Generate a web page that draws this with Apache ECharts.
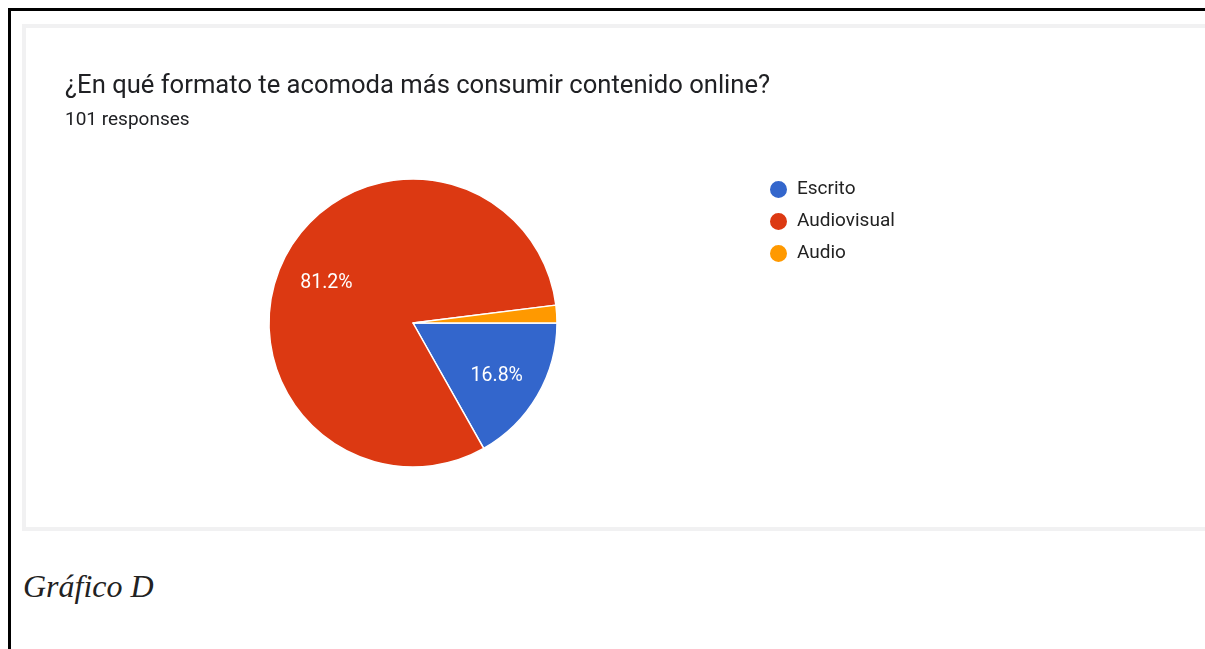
<!DOCTYPE html>
<html>
<head>
<meta charset="utf-8">
<title>Gráfico D</title>
<script src="https://cdn.jsdelivr.net/npm/echarts@6/dist/echarts.min.js"></script>
<style>
  html, body { margin: 0; padding: 0; background: #ffffff; }
  body { width: 1205px; height: 649px; position: relative; overflow: hidden; }
  .frame-top { position: absolute; left: 8px; top: 8px; width: 1197px; height: 3px; background: #000; }
  .frame-left { position: absolute; left: 8px; top: 8px; width: 3px; height: 641px; background: #000; }
  .card { position: absolute; left: 22px; top: 24px; width: 1179px; height: 499px;
          border: 4px solid #f1f1f2; background: #fff; box-sizing: content-box; }
  .caption { position: absolute; left: 23px; top: 566px; font-family: "Liberation Serif", "DejaVu Serif", serif;
             font-style: italic; font-size: 32px; color: #222; line-height: 40px; }
  #chart { position: absolute; left: 0; top: 0; width: 1205px; height: 649px; }
</style>
</head>
<body>
<div class="frame-top"></div>
<div class="frame-left"></div>
<div class="card"></div>
<div class="caption">Gráfico D</div>
<div id="chart"></div>
<script>
// Survey answers: 101 responses
const categories = ['Escrito', 'Audiovisual', 'Audio'];
const responses = [17, 82, 2];
const sliceColors = ['#3366cc', '#dc3912', '#ff9900'];

const questionTitle = '¿En qué formato te acomoda más consumir contenido online?';
const totalResponses = responses.reduce((a, b) => a + b, 0);
const subtitle = totalResponses + ' responses';

const pieData = categories.map((name, i) => ({
  name: name,
  value: responses[i],
  itemStyle: { color: sliceColors[i] }
}));

// Percent labels sit at about two thirds of the radius; a transparent,
// wider pie carries them so that "inside" lands at that distance.
const labelData = categories.map((name, i) => ({
  name: name,
  value: responses[i],
  label: { show: responses[i] / totalResponses >= 0.05 }
}));

const chart = echarts.init(document.getElementById('chart'), null, { renderer: 'canvas' });
chart.setOption({
  animation: false,
  backgroundColor: 'transparent',
  title: {
    text: questionTitle,
    subtext: subtitle,
    left: 60,
    top: 69,
    padding: 5,
    itemGap: 11,
    textStyle: { fontFamily: 'Roboto', fontSize: 25.6, fontWeight: 'normal', color: '#202124' },
    subtextStyle: { fontFamily: 'Roboto', fontSize: 19, color: '#202124' }
  },
  legend: {
    orient: 'vertical',
    left: 768,
    top: 179,
    padding: 0,
    icon: 'circle',
    itemWidth: 19,
    itemHeight: 19,
    itemGap: 11,
    selectedMode: false,
    data: categories,
    textStyle: { fontFamily: 'Roboto', fontSize: 19, color: '#222222', padding: [0, 0, 0, 4] }
  },
  series: [
    {
      type: 'pie',
      center: [413, 323],
      radius: [0, 144],
      startAngle: 0,
      clockwise: true,
      silent: true,
      avoidLabelOverlap: false,
      label: { show: false },
      labelLine: { show: false },
      itemStyle: { borderColor: '#ffffff', borderWidth: 1.5 },
      data: pieData
    },
    {
      type: 'pie',
      center: [413, 323],
      radius: [0, 188],
      startAngle: 0,
      clockwise: true,
      silent: true,
      avoidLabelOverlap: false,
      itemStyle: { color: 'rgba(0,0,0,0)' },
      label: {
        position: 'inside',
        fontFamily: 'Roboto',
        fontSize: 19.5,
        color: '#ffffff',
        formatter: p => p.percent.toFixed(1) + '%'
      },
      labelLayout: { dy: 4 },
      labelLine: { show: false },
      data: labelData
    }
  ]
});
</script>
</body>
</html>
